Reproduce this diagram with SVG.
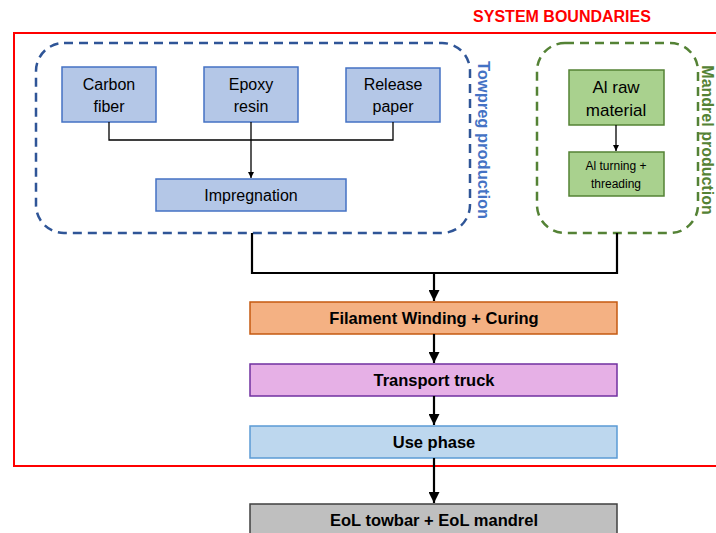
<svg xmlns="http://www.w3.org/2000/svg" width="716" height="533" viewBox="0 0 716 533">
<defs>
<marker id="ah" viewBox="0 0 10 10" refX="10" refY="5" markerWidth="5" markerHeight="5" orient="auto"><path d="M0,0 L10,5 L0,10 z" fill="#000"/></marker>
<style>
text{font-family:"Liberation Sans","Open Sans",sans-serif;text-anchor:middle;fill:#000}
.in{fill:#B4C7E7;stroke:#4472C4;stroke-width:1.5}
.gr{fill:#A9D18E;stroke:#548235;stroke-width:1.5}
.t{font-size:16px}
.b{font-size:16.5px;font-weight:bold}
.c{fill:none;stroke:#000;stroke-width:1.3}
.c2{fill:none;stroke:#000;stroke-width:2.2}
</style>
</defs>
<rect width="716" height="533" fill="#fff"/>
<g id="system-boundary">
<rect x="14" y="33" width="720" height="433" fill="none" stroke="#FF0000" stroke-width="2"/>
<text x="562" y="22" font-size="16" font-weight="bold" style="fill:#FF0000">SYSTEM BOUNDARIES</text>
</g>
<g id="towpreg-group">
<rect x="36" y="43" width="434" height="190" rx="28" fill="none" stroke="#2F5597" stroke-width="2.5" stroke-dasharray="9,6"/>
<text transform="translate(478,140) rotate(90)" font-size="16.5" font-weight="bold" style="fill:#4472C4">Towpreg production</text>
</g>
<g id="mandrel-group">
<rect x="537" y="43" width="161" height="190" rx="28" fill="none" stroke="#548235" stroke-width="2.5" stroke-dasharray="9,6"/>
<text transform="translate(702,140) rotate(90)" font-size="16" font-weight="bold" style="fill:#548235">Mandrel production</text>
</g>
<g id="carbon-fiber"><rect class="in" x="62" y="67" width="94" height="55"/><text class="t" x="109" y="90">Carbon</text><text class="t" x="109" y="112">fiber</text></g>
<g id="epoxy-resin"><rect class="in" x="204" y="67" width="94" height="55"/><text class="t" x="251" y="90">Epoxy</text><text class="t" x="251" y="112">resin</text></g>
<g id="release-paper"><rect class="in" x="346" y="68" width="94" height="54"/><text class="t" x="393" y="90">Release</text><text class="t" x="393" y="112">paper</text></g>
<g id="impregnation"><rect class="in" x="156" y="179" width="190" height="32"/><text class="t" x="251" y="201">Impregnation</text></g>
<g id="al-raw"><rect class="gr" x="569" y="70" width="95" height="55"/><text x="616" y="93" font-size="17">Al raw</text><text x="616" y="116" font-size="17">material</text></g>
<g id="al-turning"><rect class="gr" x="569" y="152" width="95" height="44"/><text x="616" y="170" font-size="12">Al turning +</text><text x="616" y="188" font-size="12">threading</text></g>
<g id="filament"><rect x="250" y="302" width="367" height="32" fill="#F4B183" stroke="#C55A11" stroke-width="1.5"/><text class="b" x="434" y="324">Filament Winding + Curing</text></g>
<g id="transport"><rect x="250" y="364" width="367" height="32" fill="#E6B0E6" stroke="#7030A0" stroke-width="1.5"/><text class="b" x="434" y="386">Transport truck</text></g>
<g id="use-phase"><rect x="250" y="426" width="367" height="32" fill="#BDD7EE" stroke="#5B9BD5" stroke-width="1.5"/><text class="b" x="434" y="448">Use phase</text></g>
<g id="eol"><rect x="250" y="504" width="367" height="40" fill="#BFBFBF" stroke="#404040" stroke-width="1.5"/><text class="b" x="434" y="526">EoL towbar + EoL mandrel</text></g>
<g id="connectors">
<path class="c" d="M109,122 V140 H393 V122"/>
<path class="c" d="M251,122 V178" marker-end="url(#ah)"/>
<path class="c" d="M616,125 V151" marker-end="url(#ah)"/>
<path class="c2" d="M252,233 V273 H617 V233"/>
<path class="c2" d="M434,273 V301" marker-end="url(#ah)"/>
<path class="c2" d="M434,334 V363" marker-end="url(#ah)"/>
<path class="c2" d="M434,396 V425" marker-end="url(#ah)"/>
<path class="c2" d="M434,458 V503" marker-end="url(#ah)"/>
</g>
</svg>
